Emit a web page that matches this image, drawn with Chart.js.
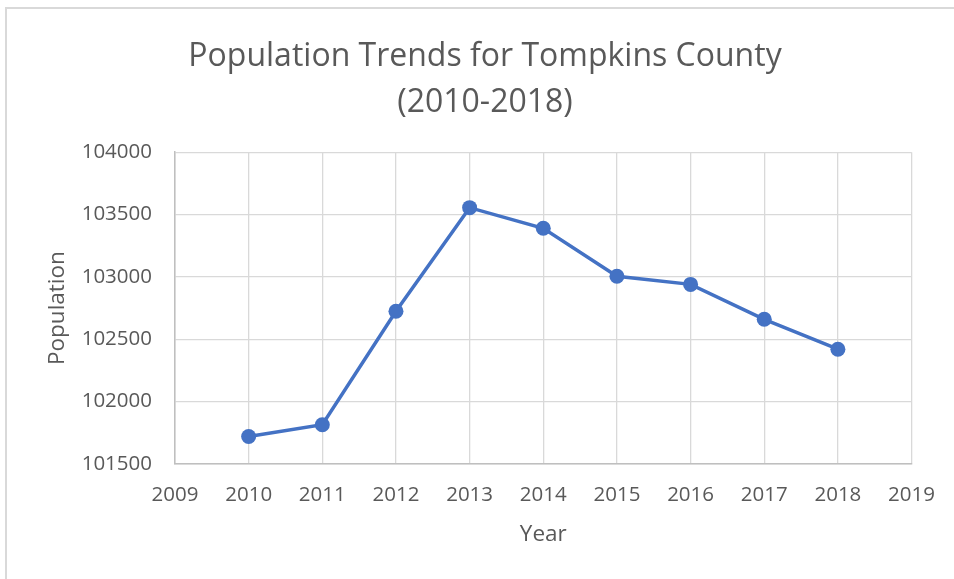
<!DOCTYPE html>
<html>
<head>
<meta charset="utf-8">
<title>Population Trends for Tompkins County (2010-2018)</title>
<script src="https://cdn.jsdelivr.net/npm/chart.js@4/dist/chart.umd.min.js"></script>
<style>
  html, body { margin: 0; padding: 0; background: #ffffff; overflow: hidden; }
  #wrap { position: relative; width: 954px; height: 579px; }
  #frame {
    position: absolute; left: 5px; top: 7px; width: 980px; height: 600px;
    border: 2px solid #d9d9d9; box-sizing: border-box; pointer-events: none;
  }
  canvas { position: absolute; left: 0; top: 0; }
</style>
</head>
<body>
<div id="wrap">
  <canvas id="chart" width="954" height="579"></canvas>
  <div id="frame"></div>
</div>
<script>
// Annual population estimates, Tompkins County
const years = [2010, 2011, 2012, 2013, 2014, 2015, 2016, 2017, 2018];
const population = [101720, 101815, 102725, 103555, 103390, 103005, 102940, 102660, 102420];

const chartTitle = ['Population Trends for Tompkins County', '(2010-2018)'];
const xAxisTitle = 'Year';
const yAxisTitle = 'Population';
const xRange = [2009, 2019];
const xStep = 1;
const yRange = [101500, 104000];
const yStep = 500;

const TEXT = '#595959';
const GRID = '#d9d9d9';
const AXIS = '#bfbfbf';
const LINE = '#4472c4';
const FONT = "'Open Sans', 'Noto Sans', sans-serif";

const points = years.map((yr, i) => ({ x: yr, y: population[i] }));

new Chart(document.getElementById('chart'), {
  type: 'line',
  data: {
    datasets: [{
      label: yAxisTitle,
      data: points,
      borderColor: LINE,
      backgroundColor: LINE,
      borderWidth: 3.5,
      pointRadius: 7.5,
      pointBorderWidth: 0,
      pointBackgroundColor: LINE,
      tension: 0,
      fill: false
    }]
  },
  options: {
    responsive: false,
    devicePixelRatio: 1,
    animation: false,
    layout: { padding: { left: 16, right: 0, top: 0, bottom: 0 } },
    plugins: {
      legend: { display: false },
      tooltip: { enabled: false },
      title: {
        display: true,
        text: chartTitle,
        color: TEXT,
        font: { family: FONT, size: 32, weight: 'normal', lineHeight: 1.44 },
        padding: { top: 33.5, bottom: 26.5 }
      }
    },
    scales: {
      x: {
        type: 'linear',
        position: 'bottom',
        min: xRange[0],
        max: xRange[1],
        ticks: {
          stepSize: xStep,
          color: TEXT,
          padding: 19,
          maxRotation: 0,
          font: { family: FONT, size: 20.5 },
          callback: v => String(v)
        },
        grid: { color: GRID, lineWidth: 1.3, drawTicks: false },
        border: { color: AXIS, width: 1.5 },
        title: {
          display: true,
          text: xAxisTitle,
          color: TEXT,
          font: { family: FONT, size: 22.5, lineHeight: 1.2 },
          padding: { top: 0, bottom: 30.5 }
        },
        afterFit: s => { s.height = 115; }
      },
      y: {
        type: 'linear',
        position: 'left',
        min: yRange[0],
        max: yRange[1],
        ticks: {
          stepSize: yStep,
          color: TEXT,
          padding: 23,
          font: { family: FONT, size: 20.5 },
          callback: v => String(v)
        },
        grid: { color: GRID, lineWidth: 1.3, drawTicks: false },
        border: { color: AXIS, width: 1.5 },
        title: {
          display: true,
          text: yAxisTitle,
          color: TEXT,
          font: { family: FONT, size: 22.5, lineHeight: 1.2 },
          padding: { top: 28.5, bottom: 0 }
        },
        afterFit: s => { s.width = 159; }
      },
      // empty margin on the right of the plot
      yRight: {
        type: 'linear',
        position: 'right',
        min: yRange[0],
        max: yRange[1],
        ticks: { display: false },
        grid: { display: false, drawOnChartArea: false },
        border: { display: false },
        afterFit: s => { s.width = 42; }
      }
    }
  }
});
</script>
</body>
</html>
